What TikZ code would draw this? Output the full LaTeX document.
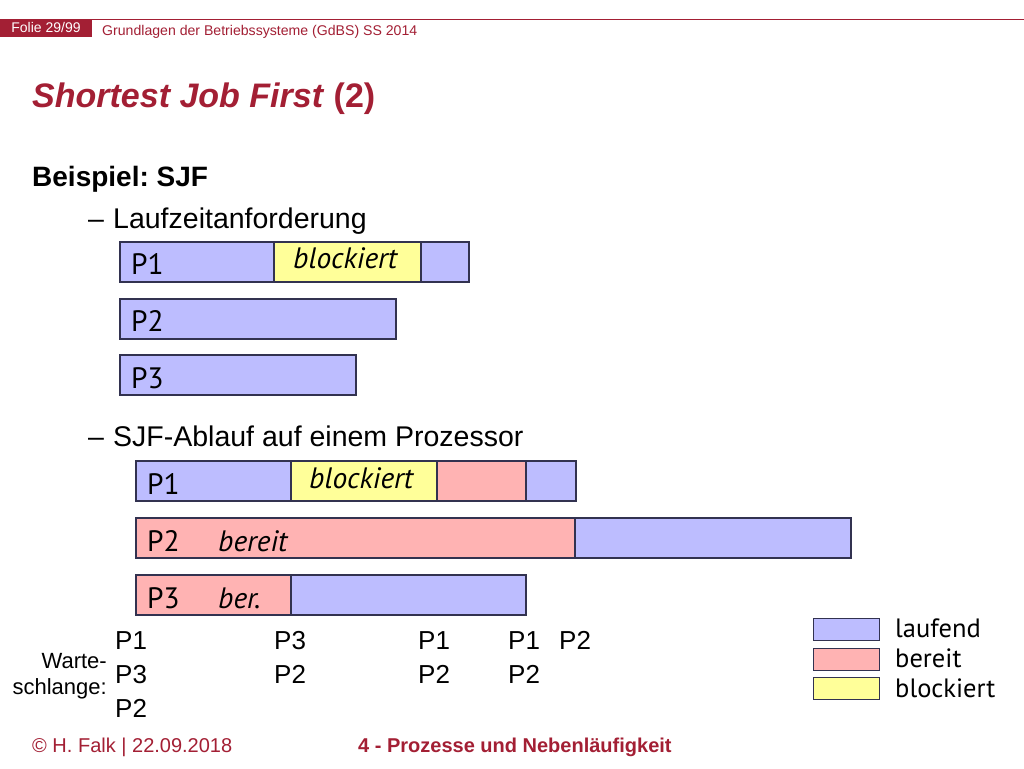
\documentclass[tikz,border=0pt]{standalone}
\usepackage{fontspec}
\setmainfont{Liberation Sans}
\newfontfamily\barfont{PT Sans}
\frenchspacing
\definecolor{fauRed}{RGB}{163,31,52}
\definecolor{lauf}{RGB}{189,189,255}
\definecolor{ber}{RGB}{255,179,179}
\definecolor{blk}{RGB}{255,255,153}
\definecolor{barline}{RGB}{50,50,80}
\tikzset{
  seg/.style={draw=barline, line width=1.3, rectangle, inner sep=0, outer sep=0, anchor=north west, minimum height=40},
  laufseg/.style={seg, fill=lauf},
  berseg/.style={seg, fill=ber},
  blkseg/.style={seg, fill=blk},
  legbox/.style={draw=barline, line width=1.2, rectangle, inner sep=0, anchor=north west, minimum width=66, minimum height=22},
  txt/.style={inner sep=0, anchor=base west},
  barlbl/.style={txt, font=\barfont\fontsize{29.5}{32}\selectfont},
  barit/.style={txt, font=\barfont\itshape\fontsize{29.5}{32}\selectfont},
  queue/.style={txt, font=\fontsize{26}{28}\selectfont},
  legtxt/.style={txt, font=\barfont\fontsize{26.5}{30}\selectfont},
}
\begin{document}
\begin{tikzpicture}[x=1pt,y=-1pt]
\useasboundingbox[fill=white] (0,0) rectangle (1024,768);
% header
\draw[fauRed, line width=1.5] (92,19.5) -- (1024,19.5);
\node[fill=fauRed, anchor=north west, minimum width=92, minimum height=18, inner sep=0] (folie) at (0,19) {};
\node[txt, text=white, font=\fontsize{14}{16}\selectfont, anchor=base] (folietxt) at (46,33) {Folie 29/99};
\node[txt, text=fauRed, font=\fontsize{14.1}{16}\selectfont] (hdr) at (102,36) {Grundlagen der Betriebssysteme (GdBS) SS 2014};
% title
\node[txt, text=fauRed, font=\bfseries\fontsize{34}{40}\selectfont] (title) at (32,107) {\textit{Shortest Job First} (2)};
\node[txt, font=\bfseries\fontsize{28}{32}\selectfont] (beisp) at (32,186) {Beispiel: SJF};
\node[txt, font=\fontsize{28.5}{32}\selectfont] (d1) at (88,228) {–};
\node[txt, font=\fontsize{28.5}{32}\selectfont] (lauf) at (113,228) {Laufzeitanforderung};
\node[txt, font=\fontsize{28.5}{32}\selectfont] (d2) at (88,446) {–};
\node[txt, font=\fontsize{28.5}{32}\selectfont] (ablauf) at (113,446) {SJF-Ablauf auf einem Prozessor};
% first group
\node[laufseg, minimum width=154] (a1) at (120,242) {};
\node[blkseg, minimum width=147] (a2) at (274,242) {};
\node[laufseg, minimum width=48] (a3) at (421,242) {};
\node[barlbl] (la1) at (131,274) {P1};
\node[barit] (la2) at (293,268) {blockiert};
\node[laufseg, minimum width=276] (b1) at (120,299) {};
\node[barlbl] (lb1) at (131,331) {P2};
\node[laufseg, minimum width=236] (c1) at (120,355) {};
\node[barlbl] (lc1) at (131,388) {P3};
% second group
\node[laufseg, minimum width=155] (e1) at (136,461) {};
\node[blkseg, minimum width=146] (e2) at (291,461) {};
\node[berseg, minimum width=89] (e3) at (437,461) {};
\node[laufseg, minimum width=50] (e4) at (526,461) {};
\node[barlbl] (le1) at (147,494) {P1};
\node[barit] (le2) at (309,488) {blockiert};
\node[berseg, minimum width=439] (f1) at (136,518) {};
\node[laufseg, minimum width=276] (f2) at (575,518) {};
\node[barlbl] (lf1) at (147,551) {P2};
\node[barit] (lf2) at (218,551) {bereit};
\node[berseg, minimum width=155] (g1) at (136,575) {};
\node[laufseg, minimum width=235] (g2) at (291,575) {};
\node[barlbl] (lg1) at (147,608) {P3};
\node[barit] (lg2) at (218,608) {ber.};
% queue
\node[txt, anchor=base east, font=\fontsize{22}{24}\selectfont] (w1) at (107,668) {Warte-};
\node[txt, anchor=base east, font=\fontsize{22}{24}\selectfont] (w2) at (107,694) {schlange:};
\node[queue] (q11) at (115,649) {P1};
\node[queue] (q12) at (115,683) {P3};
\node[queue] (q13) at (115,717) {P2};
\node[queue] (q21) at (274,649) {P3};
\node[queue] (q22) at (274,683) {P2};
\node[queue] (q31) at (418,649) {P1};
\node[queue] (q32) at (418,683) {P2};
\node[queue] (q41) at (508,649) {P1};
\node[queue] (q42) at (508,683) {P2};
\node[queue] (q51) at (559,649) {P2};
% legend
\node[legbox, fill=lauf] (lg-l) at (813,618) {};
\node[legbox, fill=ber] (lg-b) at (813,648) {};
\node[legbox, fill=blk] (lg-k) at (813,677) {};
\node[legtxt] (lt-l) at (895,637) {laufend};
\node[legtxt] (lt-b) at (895,667) {bereit};
\node[legtxt] (lt-k) at (895,697) {blockiert};
% footer
\node[txt, text=fauRed, font=\fontsize{20}{22}\selectfont] (f-left) at (32,752) {© H. Falk | 22.09.2018};
\node[txt, text=fauRed, font=\bfseries\fontsize{20}{22}\selectfont] (f-mid) at (358,752) {4 - Prozesse und Nebenläufigkeit};
\end{tikzpicture}
\end{document}
